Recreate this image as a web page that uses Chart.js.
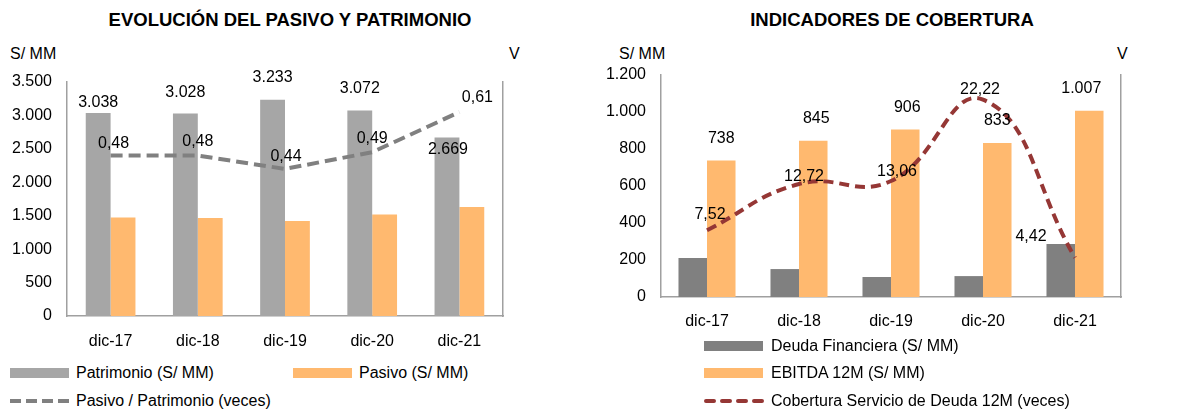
<!DOCTYPE html>
<html>
<head>
<meta charset="utf-8">
<script src="https://cdn.jsdelivr.net/npm/chart.js@4.4.1/dist/chart.umd.min.js"></script>
<style>
    body { margin: 0; background: #fff; width: 1190px; height: 410px; position: relative; overflow: hidden;
           font-family: "Liberation Sans", Arial, sans-serif; color: #000; }
    .abs { position: absolute; white-space: nowrap; }
    .title { font-weight: bold; font-size: 18.5px; line-height: 18px; transform: translateX(-50%); }
    .lbl { font-size: 16px; line-height: 16px; }
    .sw { position: absolute; width: 59px; height: 10px; }
    canvas { position: absolute; }
</style>
</head>
<body>
<div class="abs title" style="left:290px; top:11px;">EVOLUCIÓN DEL PASIVO Y PATRIMONIO</div>
<div class="abs title" style="left:892px; top:11px;">INDICADORES DE COBERTURA</div>

<div class="abs lbl" style="left:10px; top:46px;">S/ MM</div>
<div class="abs lbl" style="left:509px; top:46px;">V</div>
<div class="abs lbl" style="left:619px; top:46px;">S/ MM</div>
<div class="abs lbl" style="left:1117px; top:46px;">V</div>

<div style="position:absolute; left:0; top:30px; width:520px; height:332px;"><canvas id="chartLeft"></canvas></div>
<div style="position:absolute; left:590px; top:30px; width:600px; height:310px;"><canvas id="chartRight"></canvas></div>

<!-- legends -->
<div class="sw" style="left:10px; top:368px; background:#A6A6A6;"></div>
<div class="abs lbl" style="left:76px; top:365px;">Patrimonio (S/ MM)</div>
<div class="sw" style="left:293px; top:368px; background:#FFB96F;"></div>
<div class="abs lbl" style="left:359px; top:365px;">Pasivo (S/ MM)</div>
<svg class="abs" style="left:10px; top:397px;" width="60" height="8"><line x1="0" y1="4" x2="60" y2="4" stroke="#808080" stroke-width="4" stroke-dasharray="11,5"/></svg>
<div class="abs lbl" style="left:76px; top:393px;">Pasivo / Patrimonio (veces)</div>

<div class="sw" style="left:704px; top:341px; background:#808080;"></div>
<div class="abs lbl" style="left:771px; top:338px;">Deuda Financiera (S/ MM)</div>
<div class="sw" style="left:704px; top:368px; background:#FFB96F;"></div>
<div class="abs lbl" style="left:771px; top:365px;">EBITDA 12M (S/ MM)</div>
<svg class="abs" style="left:704px; top:397px;" width="60" height="8"><line x1="2" y1="4" x2="60" y2="4" stroke="#953735" stroke-width="4" stroke-linecap="round" stroke-dasharray="8,8"/></svg>
<div class="abs lbl" style="left:771px; top:393px;">Cobertura Servicio de Deuda 12M (veces)</div>

<script>
const categories = ["dic-17", "dic-18", "dic-19", "dic-20", "dic-21"];

// Evolución del pasivo y patrimonio
const patrimonio = [3038, 3028, 3233, 3072, 2669];
const pasivo = [1475, 1465, 1422, 1520, 1630];
const pasivoPatrimonio = [0.48, 0.48, 0.44, 0.49, 0.61];

// Indicadores de cobertura
const deudaFinanciera = [211, 151, 108, 113, 286];
const ebitda12m = [738, 845, 906, 833, 1007];
const coberturaServicio = [7.52, 12.72, 13.06, 22.22, 4.42];

const FONT = "Liberation Sans";
const AXIS_COLOR = "#A0A0A0";

function fmtMiles(v) {
    return String(Math.round(v)).replace(/\B(?=(\d{3})+(?!\d))/g, ".");
}
function fmtDec(v) {
    return v.toFixed(2).replace(".", ",");
}

// draws value labels for chosen datasets, with small per-point nudges
const valueLabels = {
    id: "valueLabels",
    afterDatasetsDraw(chart, args, opts) {
        const ctx = chart.ctx;
        ctx.save();
        ctx.font = "16px " + FONT;
        ctx.fillStyle = "#000";
        ctx.textAlign = "center";
        ctx.textBaseline = "middle";
        (opts.sets || []).forEach(s => {
            const meta = chart.getDatasetMeta(s.index);
            const values = chart.data.datasets[s.index].data;
            meta.data.forEach((el, i) => {
                const off = s.offsets[i];
                ctx.fillText(s.format(values[i]), el.x + off[0], el.y + off[1]);
            });
        });
        ctx.restore();
    }
};

function baseScales(yMax, yStep, y2Max, leftWidth, xHeight, xPad) {
    return {
        x: {
            grid: { display: false, drawTicks: false },
            border: { color: AXIS_COLOR, width: 1.5 },
            ticks: { color: "#000", font: { family: FONT, size: 16 }, padding: xPad },
            afterFit: s => { s.height = xHeight; }
        },
        y: {
            min: 0, max: yMax,
            grid: { display: false, drawTicks: false },
            border: { color: AXIS_COLOR, width: 1.5 },
            ticks: { stepSize: yStep, color: "#000", font: { family: FONT, size: 16 }, padding: 15,
                     callback: v => fmtMiles(v) },
            afterFit: s => { s.width = leftWidth; }
        },
        y2: {
            position: "right", min: 0, max: y2Max,
            grid: { display: false, drawTicks: false },
            border: { color: AXIS_COLOR, width: 1.5 },
            ticks: { display: false },
            afterFit: s => { s.width = 0; }
        }
    };
}

new Chart(document.getElementById("chartLeft"), {
    type: "bar",
    data: {
        labels: categories,
        datasets: [
            { label: "Pasivo / Patrimonio (veces)", type: "line", data: pasivoPatrimonio, yAxisID: "y2",
              borderColor: "#808080", borderWidth: 4, borderDash: [12, 6], pointRadius: 0, tension: 0, order: 0 },
            { label: "Patrimonio (S/ MM)", data: patrimonio, backgroundColor: "#A6A6A6", order: 1,
              categoryPercentage: 0.57, barPercentage: 1 },
            { label: "Pasivo (S/ MM)", data: pasivo, backgroundColor: "#FFB96F", order: 1,
              categoryPercentage: 0.57, barPercentage: 1 }
        ]
    },
    options: {
        responsive: true,
        maintainAspectRatio: false,
        animation: false,
        layout: { padding: { top: 52, right: 17, left: 0, bottom: 0 } },
        scales: baseScales(3500, 500, 0.7, 67, 46, 16),
        plugins: {
            legend: { display: false },
            tooltip: { enabled: false },
            valueLabels: {
                sets: [
                    { index: 1, format: fmtMiles, offsets: [[0, -10], [0, -21], [0, -22], [0, -22], [1, 12]] },
                    { index: 0, format: fmtDec, offsets: [[3, -12], [0, -14], [1, -12], [0, -14], [18, -14]] }
                ]
            }
        }
    },
    plugins: [valueLabels]
});

new Chart(document.getElementById("chartRight"), {
    type: "bar",
    data: {
        labels: categories,
        datasets: [
            { label: "Cobertura Servicio de Deuda 12M (veces)", type: "line", data: coberturaServicio, yAxisID: "y2",
              borderColor: "#953735", borderWidth: 4, borderDash: [10, 6], pointRadius: 0, tension: 0.45,
              order: 0, clip: false },
            { label: "Deuda Financiera (S/ MM)", data: deudaFinanciera, backgroundColor: "#808080", order: 1,
              categoryPercentage: 0.62, barPercentage: 1 },
            { label: "EBITDA 12M (S/ MM)", data: ebitda12m, backgroundColor: "#FFB96F", order: 1,
              categoryPercentage: 0.62, barPercentage: 1 }
        ]
    },
    options: {
        responsive: true,
        maintainAspectRatio: false,
        animation: false,
        layout: { padding: { top: 45, right: 69, left: 0, bottom: 0 } },
        scales: baseScales(1200, 200, 25, 71, 43, 15),
        plugins: {
            legend: { display: false },
            tooltip: { enabled: false },
            valueLabels: {
                sets: [
                    { index: 2, format: fmtMiles, offsets: [[0, -22], [3, -22], [2, -22], [0, -22], [-8, -22]] },
                    { index: 0, format: fmtDec, offsets: [[3, -16], [5, -7], [6, -9], [-3, -10], [-44, -21]] }
                ]
            }
        }
    },
    plugins: [valueLabels]
});
</script>
</body>
</html>
